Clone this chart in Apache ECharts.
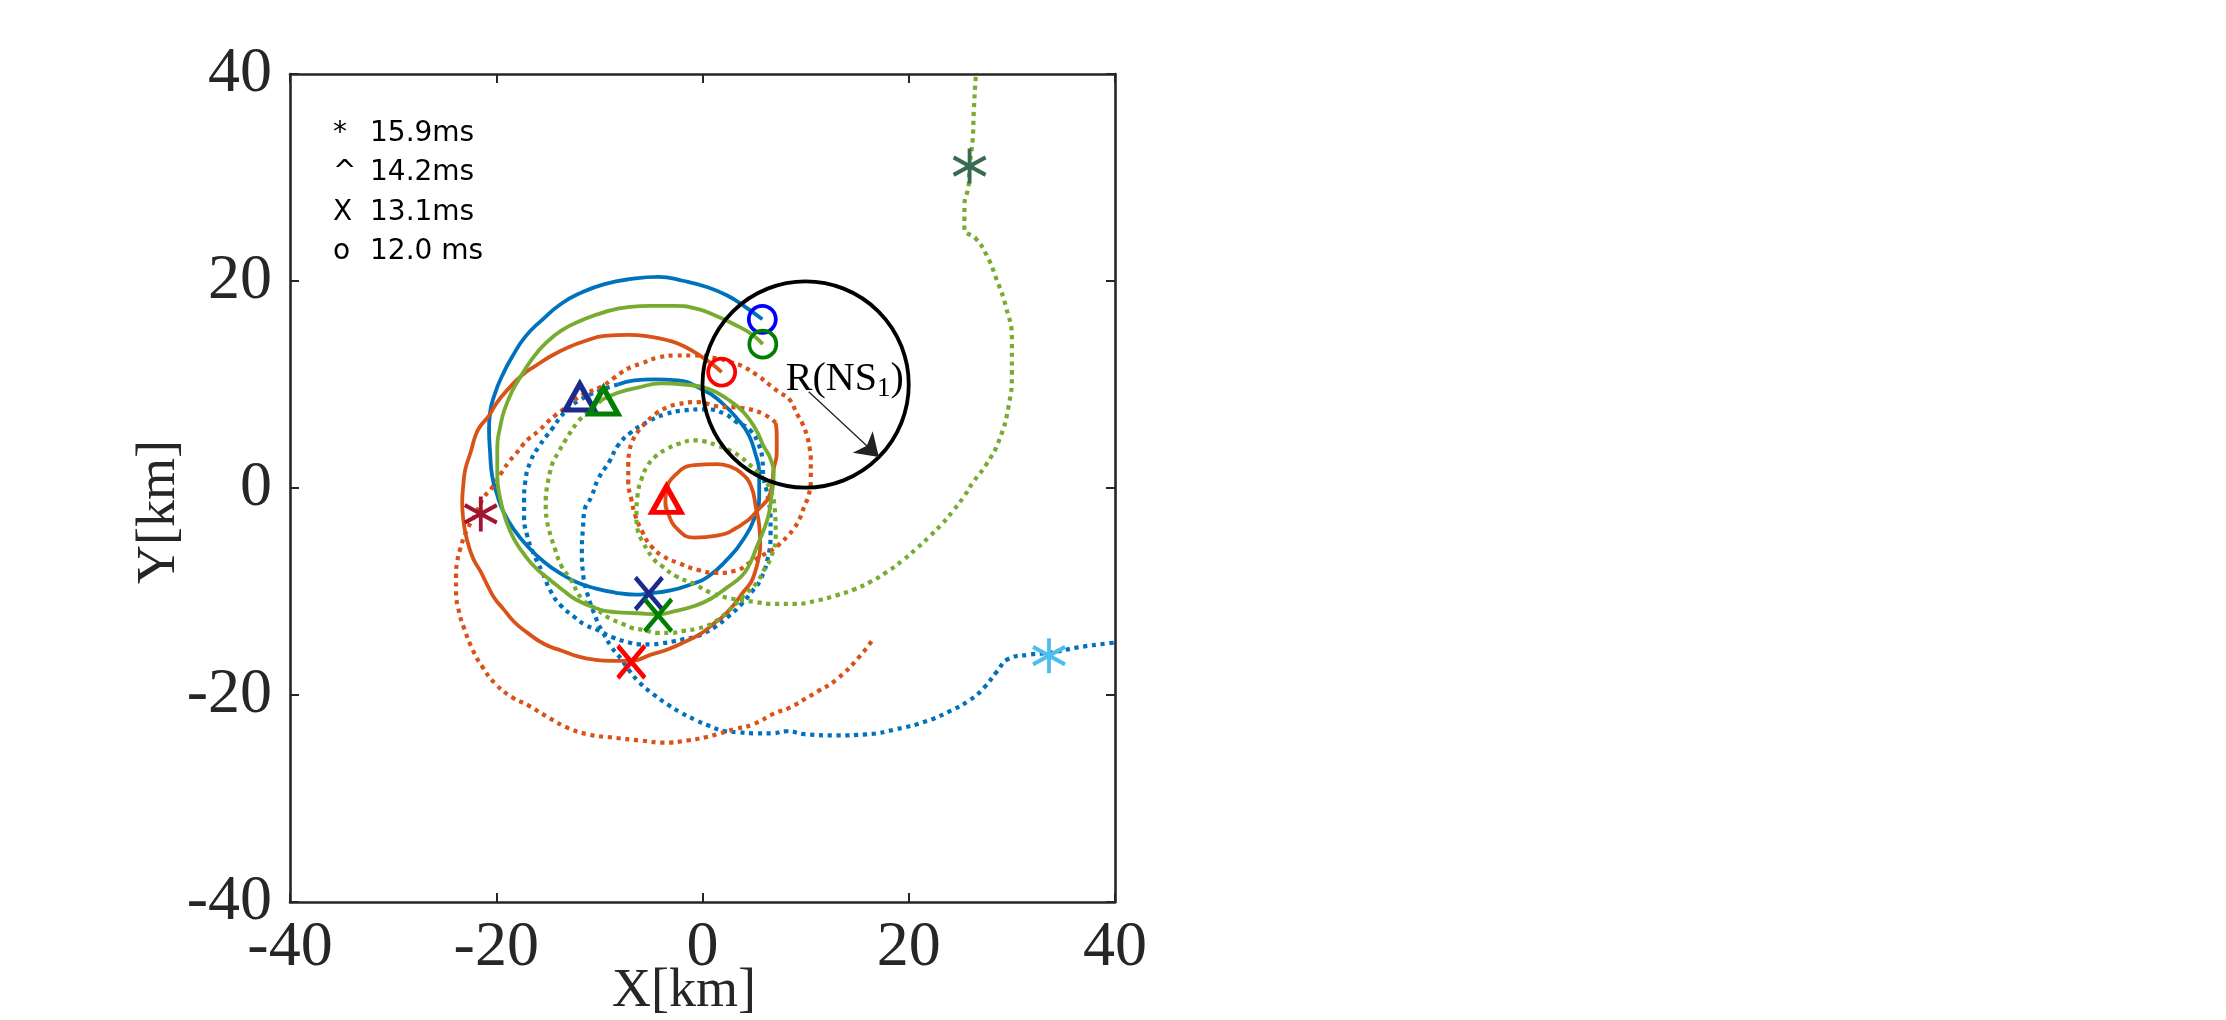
<!DOCTYPE html>
<html><head><meta charset="utf-8">
<script src="https://cdn.jsdelivr.net/npm/echarts@6/dist/echarts.min.js"></script>
<style>html,body{margin:0;padding:0;background:#fff;}#c{width:2226px;height:1020px;}</style>
</head><body><div id="c"></div>
<script>
// ---------- data (km) ----------
const axisTicks = [-40, -20, 0, 20, 40];

const blueDense = [[5.8,16.3],[4,17.6],[2.4,18.6],[0.5,19.4],[-1.8,20],[-4.3,20.4],[-6.9,20.2],[-9.5,19.7],[-11.7,18.9],[-13.7,17.8],[-15.6,16.2],[-17.2,14.6],[-18.5,12.6],[-19.4,10.9],[-20.1,9.2],[-20.6,7.3],[-20.7,5.7],[-20.6,3.5],[-20.4,1.2],[-19.9,-0.7],[-19.3,-2.3],[-18.3,-4],[-16.9,-5.7],[-15.3,-7.2],[-13.7,-8.3],[-12.2,-9.1],[-10.4,-9.7],[-8.5,-10.1],[-6.5,-10.3],[-5.3,-10.2],[-3.1,-9.9],[-1.1,-9.3],[0.5,-8.6],[2.4,-6.9],[4,-4.9],[5,-3],[5.5,-0.7],[5.5,1.5],[5.1,3.4],[4.5,5.1],[3.7,6.3],[1.8,8.3],[-0.2,9.6],[-2.4,10.4],[-4.7,10.5],[-6.6,10.4],[-8.2,10]];
const blueDotted = [[-8.2,10],[-10,9.4],[-11.9,8.5],[-13.3,7.4],[-14.6,5.7],[-15.8,4.1],[-16.7,2.5],[-17.2,0.5],[-17.3,-1.1],[-17.3,-2.8],[-17,-4.6],[-16.4,-6.3],[-15.6,-8],[-14.6,-10.2],[-13.7,-11.4],[-12.5,-12.4],[-11.4,-13.2],[-10,-13.8],[-8.8,-14.4],[-7.2,-14.9],[-6.1,-15.1],[-5,-15.1],[-3.9,-15],[-2.7,-14.8],[-1.8,-14.6],[-0.8,-14.4],[0.2,-14],[1.1,-13.5],[2.4,-12.5],[3.7,-11.3],[4.8,-10],[5.6,-8.9],[6.3,-6.9],[6.6,-4.5],[6.6,-3],[6.3,-0.7],[5.9,1.2],[5.8,2.8],[5.4,4.3],[4.6,5.6],[3.1,6.5],[2.1,7.2],[0.2,7.6],[-1.8,7.5],[-3.7,7.1],[-5.3,6.4],[-6.9,5.4],[-8.2,4.1],[-9,2.6],[-10.1,0.9],[-10.8,-0.9],[-11.4,-2],[-11.6,-4],[-11.7,-6.1],[-11.6,-8.1],[-11.2,-10.1],[-10.2,-12.9],[-9.8,-13.7],[-8.8,-15.4],[-7.9,-16.5],[-7.2,-17.5],[-6.1,-18.8],[-4.8,-19.9],[-3.4,-20.9],[-2.1,-21.7],[-0.7,-22.4],[0.7,-23],[2.2,-23.5],[3.5,-23.6],[5,-23.7],[6.7,-23.7],[8.2,-23.5],[10,-23.8],[13,-23.9],[15.9,-23.8],[18.8,-23.3],[21.8,-22.5],[24.1,-21.5],[25.9,-20.5],[27.3,-19.3],[28.5,-17.8],[29.7,-16.5],[31.7,-16.1],[33.8,-15.9],[36.4,-15.4],[39.4,-15],[40.5,-14.9]];

const greenDense = [[5.85,13.9],[4.7,14.9],[3.1,15.8],[1.4,16.6],[-0.5,17.3],[-2.7,17.6],[-5,17.6],[-7,17.5],[-9.5,17],[-11.7,16.2],[-13.7,15.2],[-15.3,13.9],[-16.5,12.5],[-17.8,10.5],[-18.8,8.6],[-19.6,6],[-19.9,3.4],[-19.9,1.2],[-19.6,-1.1],[-19.1,-3],[-18.3,-4.9],[-17.3,-6.4],[-16.2,-7.7],[-14.9,-8.8],[-13.5,-9.9],[-12.4,-10.7],[-10.4,-11.6],[-8.5,-12],[-6.3,-12.1],[-4.3,-12.2],[-2.7,-11.9],[-0.8,-11.4],[0.8,-10.7],[2.4,-9.6],[3.7,-8.6],[4.4,-7.7],[5.3,-5.6],[6.3,-3],[6.7,-0.7],[6.9,1.2],[6.6,2.8],[5.9,4.1],[5.2,5.6],[4,7.3],[2.4,8.6],[0.5,9.6],[-1.8,10],[-4,10.1],[-6.3,9.7],[-8.2,9.2],[-9.8,8.5]];
const greenDotted = [[-9.8,8.5],[-11.1,7.3],[-12,6.5],[-13.3,4.6],[-14,3.4],[-14.5,2.5],[-14.8,1.5],[-15,0.5],[-15.2,-1.1],[-15.2,-2],[-15.1,-3],[-14.9,-4],[-14.3,-5.9],[-13.7,-7.5],[-12.8,-8.8],[-11.7,-10.7],[-10.3,-11.7],[-9,-12.6],[-7.8,-13.1],[-6.9,-13.5],[-5.8,-13.7],[-4.3,-14],[-3.1,-14],[-1.8,-13.8],[-0.6,-13.6],[0.5,-13.3],[1.4,-12.8],[2.7,-11.7],[4,-10.4],[5.3,-9.1],[5.9,-8],[6.6,-6.8],[7.1,-4.6],[7,-2],[6.6,-0.2],[5.9,0.9],[5.3,1.6],[4.5,2.3],[3.7,3],[2.7,3.6],[1.4,4.1],[0.2,4.5],[-0.8,4.6],[-2.2,4.3],[-3.4,3.8],[-4.5,3.1],[-5.3,2.2],[-5.9,0.9],[-6.3,-0.7],[-6.4,-2.7],[-6.3,-4],[-5.8,-5.2],[-4.7,-6.9],[-4,-7.5],[-2.6,-8.5],[-0.8,-9.3],[1,-10.2],[2.9,-10.7],[5,-11],[6.9,-11.2],[9,-11.2],[11,-10.9],[12.9,-10.4],[14.7,-9.8],[16.4,-9],[17.9,-8.1],[19.4,-7],[20.7,-5.9],[22,-4.7],[23.2,-3.5],[24.3,-2.2],[25.3,-0.9],[26.2,0.5],[27.6,2.4],[28.8,4.7],[29.7,8],[30,11.2],[30,14.4],[29.4,17.6],[28.5,20.2],[27.6,22.4],[26.5,24.1],[25.4,25],[25.4,26],[25.4,27.3],[25.8,29.2],[25.9,31.1],[26.2,33.7],[26.3,36.3],[26.5,39.8],[26.6,41]];

const orangeDense = [[1.86,11.2],[0.9,12],[0.2,12.5],[-1.8,13.7],[-3.5,14.3],[-5,14.6],[-7.2,14.8],[-9.5,14.7],[-11.4,14.2],[-13,13.6],[-14.6,12.8],[-16.2,11.8],[-17.5,10.9],[-18.8,9.6],[-19.9,8.3],[-20.7,7],[-21.6,5.9],[-22,5.1],[-22.5,3.4],[-23,1.8],[-23.2,0.2],[-23.3,-1.4],[-23.2,-3],[-23,-4.3],[-22.7,-5.5],[-22.2,-6.9],[-21.5,-8.1],[-20.9,-9.3],[-20.2,-10.6],[-19.3,-11.7],[-18.3,-12.9],[-17.1,-13.9],[-15.3,-15.1],[-13.7,-15.7],[-12,-16.3],[-10.4,-16.6],[-8.8,-16.7],[-6.9,-16.7],[-5,-16.1],[-3.4,-15.6],[-1.8,-14.9],[-0.2,-14.1],[1.1,-13.1],[2.1,-12.3],[3.1,-11.2],[4,-10],[4.7,-9.1],[5.1,-8.1],[5.4,-7],[5.6,-5.6],[5.5,-3.6],[5.2,-2],[4.7,0.2],[3.7,1.5],[2.6,2.1],[1.4,2.3],[-0.8,2.2],[-2.7,1.2],[-3.5,-0.3],[-3.6,-1.3],[-3.4,-2.3],[-2.4,-4],[-0.8,-4.8],[1.4,-4.6],[3.7,-3.6],[5.3,-2.2],[6.6,-0.4],[6.9,1.8],[7.2,3.4],[7.2,5.1],[7.1,6.3]];
const orangeDotted = [[7.1,6.3],[5.8,7.2],[4,7.7],[1.4,7.9],[-0.5,8.3],[-2.4,8.1],[-3.4,7.8],[-4.5,7.2],[-5.5,6.3],[-6.3,5.4],[-6.8,4.5],[-7.1,3.5],[-7.2,2.2],[-7.2,0.6],[-6.9,-1.1],[-6.5,-2.7],[-5.8,-4.3],[-5,-5.6],[-3.8,-6.6],[-2.2,-7.3],[-0.5,-7.9],[1.4,-8.2],[3.2,-8],[4.6,-7.2],[5.8,-6.5],[6.9,-5.9],[7.5,-5.4],[8.2,-4.7],[8.8,-4],[9.4,-3],[9.9,-1.7],[10.3,-0.7],[10.5,1],[10.5,2.8],[10.4,3.8],[10.2,4.8],[9.7,6.2],[9.2,7.1],[8.4,8.6],[7.5,9.2],[6.7,9.8],[5.3,10.9],[3.8,11.8],[2.9,12.1],[1.5,12.5],[-0.8,12.8],[-2.6,12.8],[-4.3,12.6],[-6,12],[-6.9,11.7],[-7.8,11.2],[-8.5,10.7],[-9.8,9.8],[-11.8,8.9],[-13.5,7.6],[-14.3,7],[-15.1,6.3],[-15.9,5.5],[-16.7,4.9],[-17.4,4.2],[-18.1,3.3],[-18.8,2.5],[-19.4,1.6],[-20.5,-0.1],[-21.2,-0.9],[-22,-2.5],[-22.9,-4.2],[-23.5,-5.9],[-23.8,-7.2],[-23.9,-8.3],[-23.9,-9.9],[-23.6,-12],[-23.1,-13.6],[-22.3,-15.6],[-21.4,-17.2],[-20.1,-18.9],[-18.5,-20.2],[-16.9,-21],[-14.9,-22.2],[-13,-23.2],[-11.1,-23.8],[-8.8,-24.1],[-6,-24.4],[-3.7,-24.6],[-1.5,-24.4],[0.2,-24.1],[1.4,-23.8],[3.1,-23.3],[5,-22.8],[6.9,-21.8],[8.5,-21.2],[10.4,-20.1],[11.1,-19.7],[13,-18.5],[15.3,-16.2],[16.6,-14.5]];

// time markers: [blue run, green run, orange run]
const pts12ms = [[5.8,16.3],[5.85,13.9],[1.86,11.2]];
const pts131ms = [[-5.2,-10.2],[-4.3,-12.3],[-6.9,-16.8]];
const pts142ms = [[-11.9,8.8],[-9.6,8.4],[-3.5,-1.1]];
const pts159ms = [[33.6,-16.2],[25.9,31.1],[-21.5,-2.5]];

const nsCircle = [[10, 10, 10]];          // centre x, centre y, radius
const nsArrow = [[10.3, 9.3], [17.1, 3.0]];
const nsLabelPos = [[13.8, 10.5]];
const legendLines = [['*','15.9ms'],['^','14.2ms'],['X','13.1ms'],['o','12.0 ms']];

// ---------- styles ----------
const C_BLUE = '#0072BD', C_ORANGE = '#D95319', C_GREEN = '#77AC30';
const col12 = ['#0000FF', '#008000', '#FF0000'];
const col131 = ['#1B2A8C', '#008000', '#FF0000'];
const col142 = ['#1B2A8C', '#008000', '#FF0000'];
const col159 = ['#4DBEEE', '#386B50', '#A2142F'];
const AX = '#262626';
const SERIF = '"Liberation Serif", "Times New Roman", serif';
const SANS = '"DejaVu Sans", "Liberation Sans", sans-serif';

function denseLine(data, color) {
  return {type:'line', data, smooth:0.5, symbol:'none', showSymbol:false, silent:true,
    clip:true, lineStyle:{color, width:3.8}, z:2, animation:false};
}
function dotLine(data, color) {
  return {type:'line', data, smooth:0.5, symbol:'none', showSymbol:false, silent:true,
    clip:true, lineStyle:{color, width:4.2, type:[4.2,4.6], cap:'butt'}, z:2, animation:false};
}
function markers(pts, cols, symbol, size, bw) {
  return {type:'scatter', data: pts.map((p,i)=>({value:p, itemStyle:{borderColor:cols[i]}})),
    symbol, symbolSize:size, symbolKeepAspect:false, silent:true, z:10, animation:false,
    itemStyle:{color:'rgba(0,0,0,0)', borderWidth:bw, opacity:1}};
}

const chart = echarts.init(document.getElementById('c'), null, {renderer:'canvas'});

const axisCommon = {
  type:'value', min:-40, max:40, interval:20,
  axisLine:{onZero:false, lineStyle:{color:AX, width:2.6}},
  axisTick:{inside:true, length:9, lineStyle:{color:AX, width:2}},
  splitLine:{show:false}
};

const graphics = [];
legendLines.forEach((l, i) => {
  const y = 134 + i * 39.2;
  graphics.push({type:'text', x:333, y, style:{text:l[0], font:'28px ' + SANS, fill:'#000', align:'left', verticalAlign:'middle'}});
  graphics.push({type:'text', x:370, y, style:{text:l[1], font:'28px ' + SANS, fill:'#000', align:'left', verticalAlign:'middle'}});
});
graphics.push({type:'text', x:684, y:992, style:{text:'X[km]', font:'54px ' + SERIF, fill:AX, align:'center', verticalAlign:'middle'}});
graphics.push({type:'text', x:160, y:512, rotation:Math.PI/2, style:{text:'Y[km]', font:'54px ' + SERIF, fill:AX, align:'center', verticalAlign:'middle'}});

chart.setOption({
  backgroundColor:'#fff',
  animation:false,
  grid:{left:290, top:74, width:825, height:828, containLabel:false},
  xAxis:[
    Object.assign({}, axisCommon, {position:'bottom',
      axisLabel:{fontFamily:SERIF, fontSize:64, color:AX, margin:14, showMinLabel:true, showMaxLabel:true}}),
    Object.assign({}, axisCommon, {position:'top', axisLabel:{show:false}})
  ],
  yAxis:[
    Object.assign({}, axisCommon, {position:'left',
      axisLabel:{fontFamily:SERIF, fontSize:64, color:AX, margin:18, showMinLabel:true, showMaxLabel:true}}),
    Object.assign({}, axisCommon, {position:'right', axisLabel:{show:false}})
  ],
  graphic: graphics,
  series:[
    denseLine(blueDense, C_BLUE),
    dotLine(blueDotted, C_BLUE),
    denseLine(orangeDense, C_ORANGE),
    dotLine(orangeDotted, C_ORANGE),
    denseLine(greenDense, C_GREEN),
    dotLine(greenDotted, C_GREEN),
    {type:'custom', silent:true, z:5, data:nsCircle, animation:false,
      renderItem:function(params, api){
        const c = api.coord([api.value(0), api.value(1)]);
        const r = api.size([api.value(2), 0])[0];
        return {type:'circle', shape:{cx:c[0], cy:c[1], r}, style:{fill:'none', stroke:'#000', lineWidth:3.8}};
      }},
    {type:'lines', coordinateSystem:'cartesian2d', silent:true, z:5, animation:false,
      data:[{coords:nsArrow}], symbol:['none','arrow'], symbolSize:[16,22],
      lineStyle:{color:'#222', width:1.3, opacity:1}},
    {type:'custom', silent:true, z:6, data:nsLabelPos, animation:false,
      renderItem:function(params, api){
        const c = api.coord([api.value(0), api.value(1)]);
        return {type:'text', x:c[0], y:c[1], style:{
          text:'{a|R(NS}{b|1}{a|)}', align:'center', verticalAlign:'middle', fill:'#000',
          rich:{a:{fontFamily:SERIF, fontSize:40, lineHeight:46, fill:'#000', color:'#000'},
                b:{fontFamily:SERIF, fontSize:27, verticalAlign:'bottom', fill:'#000', color:'#000'}}}};
      }},
    markers(pts12ms, col12, 'circle', 27, 3.8),
    markers(pts131ms, col131, 'path://M0,0L10,12M10,0L0,12', [27,32], 4.6),
    markers(pts142ms, col142, 'triangle', [29,26], 5.2),
    markers(pts159ms, col159, 'path://M5,0L5,10M0.67,2.5L9.33,7.5M0.67,7.5L9.33,2.5', [32,35], 4)
  ]
});
</script></body></html>
